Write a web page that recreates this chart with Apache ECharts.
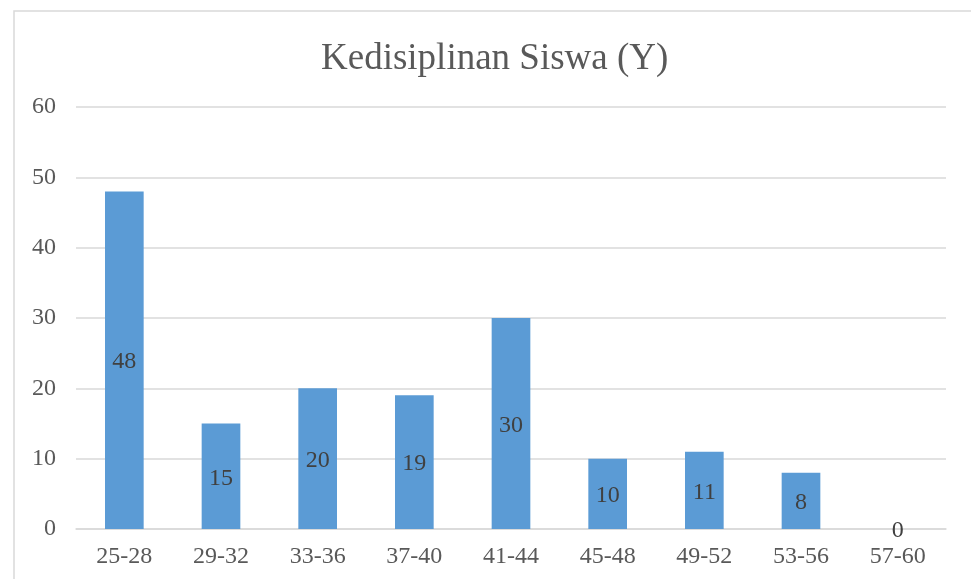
<!DOCTYPE html>
<html>
<head>
<meta charset="utf-8">
<script src="https://cdn.jsdelivr.net/npm/echarts@6/dist/echarts.min.js"></script>
<style>html,body{margin:0;padding:0;background:#fff;}#c{width:971px;height:579px;}</style>
</head>
<body>
<div id="c"></div>
<script>
const categories = ['25-28','29-32','33-36','37-40','41-44','45-48','49-52','53-56','57-60'];
const values = [48, 15, 20, 19, 30, 10, 11, 8, 0];
const yTicks = {min: 0, max: 60, interval: 10};
const titleText = 'Kedisiplinan Siswa (Y)';

const chart = echarts.init(document.getElementById('c'));
const font = '"Liberation Serif", "Times New Roman", serif';
chart.setOption({
  animation: false,
  backgroundColor: '#fff',
  graphic: [{
    type: 'rect', x: 0, y: 0,
    shape: {x: 14, y: 11, width: 980, height: 600},
    style: {fill: 'none', stroke: '#d9d9d9', lineWidth: 1.5}
  }],
  title: {
    text: titleText, left: 316, top: 36,
    textStyle: {fontFamily: font, fontSize: 37, fontWeight: 'normal', color: '#595959'}
  },
  grid: {left: 76, right: 25, top: 107, bottom: 50, containLabel: false},
  xAxis: {
    type: 'category', data: categories,
    axisLine: {show: true, lineStyle: {color: '#d9d9d9', width: 1.5}},
    axisTick: {show: false},
    axisLabel: {fontFamily: font, fontSize: 24, color: '#595959', margin: 16}
  },
  yAxis: {
    type: 'value', min: yTicks.min, max: yTicks.max, interval: yTicks.interval,
    axisLine: {show: false}, axisTick: {show: false},
    splitLine: {lineStyle: {color: '#d9d9d9', width: 1.5}},
    axisLabel: {fontFamily: font, fontSize: 24, color: '#595959', margin: 20}
  },
  series: [{
    type: 'bar', data: values, barWidth: '40%',
    itemStyle: {color: '#5b9bd5'},
    label: {show: true, position: 'inside', offset: [0, 2], fontFamily: font, fontSize: 24, color: '#404040'}
  }]
});
</script>
</body>
</html>
